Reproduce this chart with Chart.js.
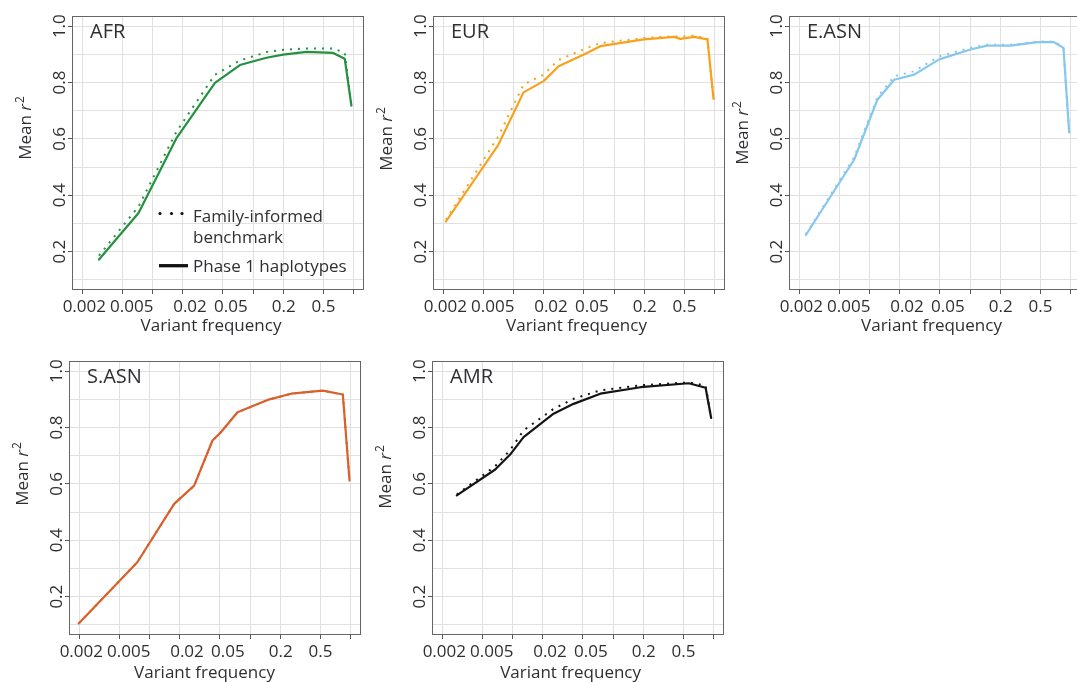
<!DOCTYPE html>
<html><head><meta charset="utf-8">
<script src="https://cdn.jsdelivr.net/npm/chart.js@4"></script>
<style>
html,body{margin:0;padding:0;background:#fff;width:1077px;height:682px;overflow:hidden;position:relative}
canvas{position:absolute}
</style></head><body>
<script>
// ---------- data ----------
const xTickValues = [0.002, 0.005, 0.01, 0.02, 0.05, 0.1, 0.2, 0.5, 1];
const xTickLabels = ['0.002', '0.005', '', '0.02', '0.05', '', '0.2', '0.5', ''];
const yGridValues = [0.1, 0.2, 0.3, 0.4, 0.5, 0.6, 0.7, 0.8, 0.9, 1.0];
const yTickValues = [0.2, 0.4, 0.6, 0.8, 1.0];
const yTickLabels = ['0.2', '0.4', '0.6', '0.8', '1.0'];
const seriesNames = ['Family-informed benchmark', 'Phase 1 haplotypes'];

const afrFreq   = [0.0029, 0.0072, 0.0173, 0.0417, 0.074, 0.136, 0.2, 0.342, 0.63, 0.824, 0.96];
const afrPhase1 = [0.172, 0.337, 0.604, 0.799, 0.862, 0.888, 0.899, 0.909, 0.905, 0.884, 0.718];
const afrBench  = [0.186, 0.360, 0.627, 0.828, 0.878, 0.908, 0.916, 0.921, 0.921, 0.905, 0.718];

const eurFreq   = [0.0021, 0.0070, 0.0125, 0.0198, 0.028, 0.0538, 0.073, 0.199, 0.397, 0.46, 0.63, 0.857, 0.985];
const eurPhase1 = [0.307, 0.579, 0.765, 0.805, 0.858, 0.905, 0.929, 0.953, 0.962, 0.955, 0.962, 0.953, 0.742];
const eurBench  = [0.313, 0.609, 0.793, 0.828, 0.880, 0.923, 0.940, 0.958, 0.964, 0.962, 0.967, 0.955, 0.742];

const easFreq   = [0.0023, 0.00697, 0.0119, 0.0175, 0.0277, 0.0492, 0.101, 0.148, 0.254, 0.472, 0.69, 0.857, 0.977];
const easPhase1 = [0.259, 0.526, 0.739, 0.810, 0.828, 0.882, 0.917, 0.931, 0.931, 0.943, 0.943, 0.923, 0.623];
const easBench  = [0.262, 0.535, 0.748, 0.822, 0.840, 0.893, 0.923, 0.934, 0.934, 0.945, 0.946, 0.925, 0.623];

const sasFreq   = [0.00195, 0.0075, 0.0175, 0.0277, 0.0422, 0.0512, 0.075, 0.15, 0.257, 0.533, 0.845, 0.985];
const sasPhase1 = [0.105, 0.322, 0.529, 0.594, 0.754, 0.783, 0.854, 0.898, 0.920, 0.931, 0.917, 0.612];
const sasBench  = [0.105, 0.322, 0.529, 0.594, 0.754, 0.783, 0.854, 0.898, 0.920, 0.931, 0.917, 0.612];

const amrFreq   = [0.00276, 0.00667, 0.0094, 0.0128, 0.0255, 0.0404, 0.0748, 0.188, 0.571, 0.84, 0.955];
const amrPhase1 = [0.559, 0.651, 0.704, 0.766, 0.849, 0.884, 0.920, 0.943, 0.957, 0.941, 0.834];
const amrBench  = [0.562, 0.663, 0.720, 0.790, 0.866, 0.902, 0.932, 0.950, 0.960, 0.949, 0.834];

// ---------- layout / style ----------
const FONT = '"Open Sans", "DejaVu Sans", sans-serif';
const TEXT = '#2f2f33';
const CW = 376, CH = 345;            // canvas size
const AL = 72, AT = 16, AW = 292, AH = 274; // chart area inside canvas
const X_MIN = 0.001560, X_MAX = 1.2823, Y_MIN = 0.064, Y_MAX = 1.036;
// horizontal nudges of the x tick labels (as laid out in the original figure)
const xLabelNudge = [1.5, 9, 0, 7, 8, 0, 0.5, 0.5, 0];

const panels = [
  {name: 'AFR',   freq: afrFreq, phase1: afrPhase1, bench: afrBench, color: '#23913f', left: 0,   top: 0,   yTitleDy: 112, xTitleDx: 139,   xTitleDy: 41,   xLabDy: 21.5, legend: true},
  {name: 'EUR',   freq: eurFreq, phase1: eurPhase1, bench: eurBench, color: '#f8a11d', left: 361, top: 0,   yTitleDy: 123, xTitleDx: 143.5, xTitleDy: 41,   xLabDy: 21.5},
  {name: 'E.ASN', freq: easFreq, phase1: easPhase1, bench: easBench, color: '#86c7ee', left: 717, top: 0,   yTitleDy: 117, xTitleDx: 142.5, xTitleDy: 41,   xLabDy: 21.5},
  {name: 'S.ASN', freq: sasFreq, phase1: sasPhase1, bench: sasBench, color: '#d9602a', left: -3,  top: 345, yTitleDy: 113, xTitleDx: 135.5, xTitleDy: 42.5, xLabDy: 22},
  {name: 'AMR',   freq: amrFreq, phase1: amrPhase1, bench: amrBench, color: '#141414', left: 360, top: 345, yTitleDy: 116, xTitleDx: 138.6, xTitleDy: 42.5, xLabDy: 22}
];

const decorPlugin = {
  id: 'decor',
  beforeDatasetsDraw(chart) {
    const ca = chart.chartArea, ctx = chart.ctx;
    ctx.save();
    ctx.strokeStyle = '#666';
    ctx.lineWidth = 1;
    ctx.strokeRect(ca.left + 0.5, ca.top + 0.5, ca.right - ca.left - 1, ca.bottom - ca.top - 1);
    ctx.restore();
  },
  afterDraw(chart) {
    const p = chart.options.plugins.decor.panel;
    const ca = chart.chartArea, ctx = chart.ctx, ys = chart.scales.y, xs = chart.scales.x;
    ctx.save();
    ctx.fillStyle = TEXT;
    ctx.font = '17px ' + FONT;
    ctx.textBaseline = 'alphabetic';
    // x tick labels
    ctx.textAlign = 'center';
    xTickValues.forEach((v, i) => {
      if (!xTickLabels[i]) return;
      ctx.fillText(xTickLabels[i], xs.getPixelForValue(v) + xLabelNudge[i], ca.bottom + p.xLabDy);
    });
    // y tick labels (rotated, as in R)
    yTickValues.forEach((v, i) => {
      const py = ys.getPixelForValue(v);
      ctx.save();
      ctx.translate(ca.left - 7, py);
      ctx.rotate(-Math.PI / 2);
      ctx.fillText(yTickLabels[i], 0, 0);
      ctx.restore();
    });
    // y title: Mean r^2
    ctx.save();
    ctx.translate(ca.left - 41, ca.top + p.yTitleDy);
    ctx.rotate(-Math.PI / 2);
    const f1 = '17px ' + FONT, f2 = 'italic 17px ' + FONT, f3 = '12px ' + FONT;
    ctx.font = f1; const w1 = ctx.measureText('Mean ').width;
    ctx.font = f2; const w2 = ctx.measureText('r').width;
    ctx.font = f3; const w3 = ctx.measureText('2').width;
    let x0 = -(w1 + w2 + 1 + w3) / 2;
    ctx.textAlign = 'left';
    ctx.font = f1; ctx.fillText('Mean ', x0, 0);
    ctx.font = f2; ctx.fillText('r', x0 + w1, 0);
    ctx.font = f3; ctx.fillText('2', x0 + w1 + w2 + 1, -7);
    ctx.restore();
    // x title
    ctx.font = '17px ' + FONT;
    ctx.textAlign = 'center';
    ctx.fillText('Variant frequency', ca.left + p.xTitleDx, ca.bottom + p.xTitleDy);
    // panel label
    ctx.font = '20px ' + FONT;
    ctx.textAlign = 'left';
    ctx.fillText(p.name, ca.left + 18, ca.top + 22);
    // legend
    if (p.legend) {
      const L = ca.left, T = ca.top;
      ctx.fillStyle = '#111';
      [88, 99.5, 110].forEach(dx => { ctx.beginPath(); ctx.arc(L + dx, T + 197.5, 1.6, 0, Math.PI * 2); ctx.fill(); });
      ctx.strokeStyle = '#111'; ctx.lineWidth = 3.3;
      ctx.beginPath(); ctx.moveTo(L + 87, T + 249.7); ctx.lineTo(L + 116, T + 249.7); ctx.stroke();
      ctx.fillStyle = TEXT;
      ctx.font = '17px ' + FONT;
      ctx.fillText('Family-informed', L + 121, T + 205.7);
      ctx.fillText('benchmark', L + 121, T + 227.3);
      ctx.fillText('Phase 1 haplotypes', L + 121, T + 255.7);
    }
    ctx.restore();
  }
};

panels.forEach(p => {
  const cv = document.createElement('canvas');
  cv.width = CW; cv.height = CH;
  cv.style.left = p.left + 'px'; cv.style.top = p.top + 'px';
  cv.style.width = CW + 'px'; cv.style.height = CH + 'px';
  document.body.appendChild(cv);
  new Chart(cv.getContext('2d'), {
    type: 'line',
    data: {
      datasets: [
        {label: seriesNames[1], data: p.freq.map((f, i) => ({x: f, y: p.phase1[i]})),
         borderColor: p.color, borderWidth: 2.2, pointRadius: 0, tension: 0,
         borderJoinStyle: 'round', borderCapStyle: 'round', order: 1},
        {label: seriesNames[0], data: p.freq.map((f, i) => ({x: f, y: p.bench[i]})),
         borderColor: p.color, borderWidth: 2, borderDash: [2, 6], pointRadius: 0, tension: 0,
         borderCapStyle: 'butt', order: 2}
      ]
    },
    options: {
      responsive: false, animation: false, devicePixelRatio: 1,
      events: [],
      layout: {padding: {left: AL - 4, top: AT, right: CW - AL - AW, bottom: 0}},
      plugins: {legend: {display: false}, tooltip: {enabled: false}, decor: {panel: p}},
      scales: {
        x: {
          type: 'logarithmic', min: X_MIN, max: X_MAX,
          afterBuildTicks: s => { s.ticks = xTickValues.map(v => ({value: v})); },
          afterFit: s => { s.height = CH - AT - AH; },
          grid: {color: '#e0e0e0', lineWidth: 1, tickLength: 4, tickColor: '#555', drawTicks: true},
          border: {display: false},
          ticks: {display: false}
        },
        y: {
          type: 'linear', min: Y_MIN, max: Y_MAX,
          afterBuildTicks: s => { s.ticks = yGridValues.map(v => ({value: v})); },
          afterFit: s => { s.width = 4; },
          grid: {color: '#e0e0e0', lineWidth: 1, tickLength: 4,
                 tickColor: c => (Math.round(c.tick.value * 10) % 2 === 0 ? '#555' : 'rgba(0,0,0,0)')},
          border: {display: false},
          ticks: {display: false}
        }
      }
    },
    plugins: [decorPlugin]
  });
});
</script>
</body></html>
